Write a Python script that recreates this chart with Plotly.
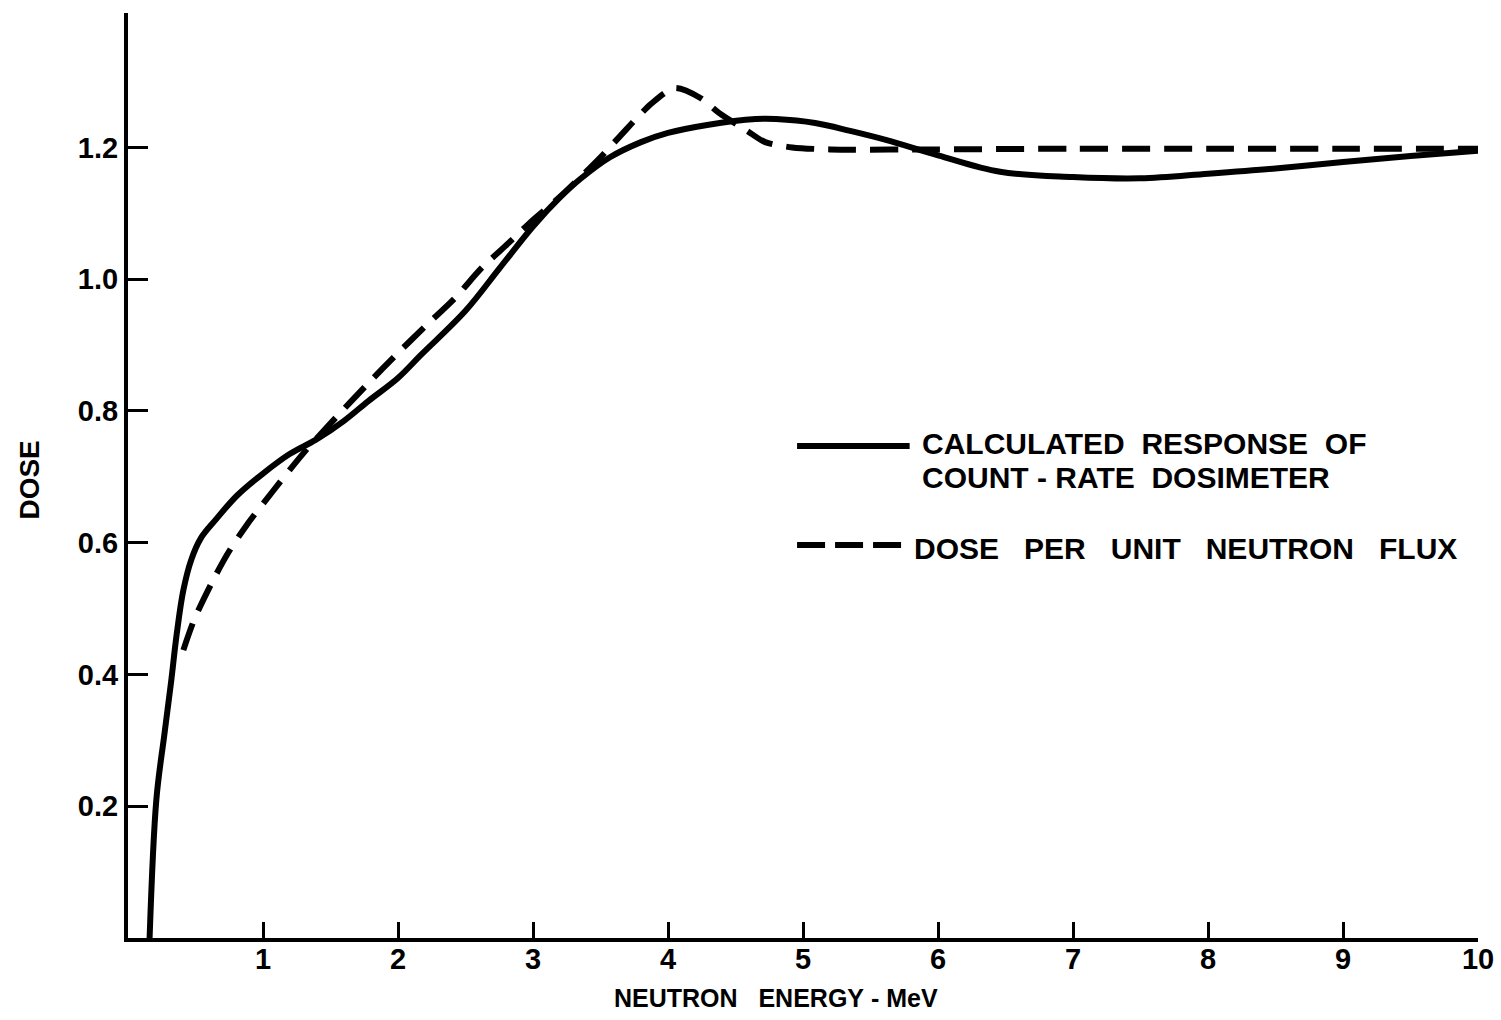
import plotly.graph_objects as go

# Calculated response of the count-rate dosimeter
calc_energy = [0.16, 0.21, 0.27, 0.32, 0.36, 0.41, 0.47, 0.54, 0.65, 0.81, 1.0,
               1.2, 1.39, 1.6, 1.78, 2.0, 2.17, 2.5, 2.75, 3.0, 3.2, 3.35, 3.57,
               3.8, 4.0, 4.29, 4.65, 4.8, 5.09, 5.35, 5.62, 6.0, 6.46, 7.0, 7.5,
               8.0, 8.5, 9.0, 9.5, 10.0]
calc_dose = [0.0, 0.21, 0.31, 0.39, 0.46, 0.528, 0.575, 0.607, 0.635, 0.672, 0.705,
             0.735, 0.756, 0.785, 0.815, 0.85, 0.885, 0.952, 1.016, 1.08, 1.124, 1.152, 1.185,
             1.208, 1.222, 1.234, 1.243, 1.243, 1.237, 1.225, 1.211, 1.188, 1.163, 1.155, 1.153,
             1.16, 1.168, 1.178, 1.187, 1.195]

# Dose per unit neutron flux
flux_energy = [0.41, 0.49, 0.62, 0.74, 0.88, 1.08, 1.3, 1.54, 1.78, 2.0, 2.21,
               2.42, 2.62, 2.82, 3.0, 3.2, 3.5, 3.64, 3.88, 4.05, 4.24, 4.38,
               4.58, 4.72, 4.92, 5.2, 6.0, 7.0, 8.0, 9.0, 10.0]
flux_dose = [0.437, 0.483, 0.539, 0.584, 0.627, 0.68, 0.736, 0.79, 0.842, 0.888, 0.93,
             0.971, 1.017, 1.055, 1.09, 1.125, 1.185, 1.216, 1.267, 1.29, 1.275, 1.252,
             1.226, 1.208, 1.2, 1.197, 1.197, 1.198, 1.198, 1.198, 1.198]

x_ticks = [1, 2, 3, 4, 5, 6, 7, 8, 9, 10]
y_ticks = [0.2, 0.4, 0.6, 0.8, 1.0, 1.2]
y_tick_labels = ["0.2", "0.4", "0.6", "0.8", "1.0", "1.2"]

FONT = "Liberation Sans"
INK = "black"
SP = "\u00a0"

fig = go.Figure()
fig.add_trace(go.Scatter(
    x=calc_energy, y=calc_dose, mode="lines",
    line=dict(color=INK, width=6, shape="spline", smoothing=1.0),
    showlegend=False, hoverinfo="skip"))
fig.add_trace(go.Scatter(
    x=flux_energy, y=flux_dose, mode="lines",
    line=dict(color=INK, width=6, dash="28px,14px", shape="spline", smoothing=0.8),
    showlegend=False, hoverinfo="skip"))

# Key drawn inside the plot area
fig.add_shape(type="line", xref="paper", yref="paper",
              x0=0.4956, x1=0.579, y0=0.532, y1=0.532,
              line=dict(color=INK, width=6))
fig.add_shape(type="line", xref="paper", yref="paper",
              x0=0.4956, x1=0.5756, y0=0.425, y1=0.425,
              line=dict(color=INK, width=6, dash="28px,10px"))
key_font = dict(family=FONT, size=30, color=INK, weight="bold")
fig.add_annotation(xref="paper", yref="paper", x=0.587, y=0.535,
                   xanchor="left", yanchor="middle", showarrow=False,
                   text="CALCULATED  RESPONSE  OF", font=key_font)
fig.add_annotation(xref="paper", yref="paper", x=0.587, y=0.498,
                   xanchor="left", yanchor="middle", showarrow=False,
                   text=f"COUNT{SP}-{SP}RATE  DOSIMETER", font=key_font)
fig.add_annotation(xref="paper", yref="paper", x=0.581, y=0.4216,
                   xanchor="left", yanchor="middle", showarrow=False,
                   text=f"DOSE{SP}{SP}{SP}PER{SP}{SP}{SP}UNIT{SP}{SP}{SP}NEUTRON{SP}{SP}{SP}FLUX",
                   font=key_font)

# Axis titles
fig.add_annotation(xref="paper", yref="paper", x=0.48, y=-0.065,
                   xanchor="center", yanchor="middle", showarrow=False,
                   text=f"NEUTRON{SP}{SP}{SP}ENERGY{SP}-{SP}MeV",
                   font=dict(family=FONT, size=25, color=INK, weight="bold"))
fig.add_annotation(xref="paper", yref="paper", x=-0.073, y=0.495,
                   xanchor="center", yanchor="middle", showarrow=False, textangle=-90,
                   text="DOSE",
                   font=dict(family=FONT, size=28, color=INK, weight="bold"))

fig.update_xaxes(
    range=[0, 10], tickvals=x_ticks, ticktext=[str(v) for v in x_ticks],
    ticks="inside", ticklen=16, tickwidth=3, tickcolor=INK,
    showline=True, linewidth=4, linecolor=INK, automargin=False,
    showgrid=False, zeroline=False, ticklabelstandoff=-8,
    tickfont=dict(family=FONT, size=29, color=INK, weight="bold"))
fig.update_yaxes(
    range=[0, 1.404], tickvals=y_ticks, ticktext=y_tick_labels,
    ticks="inside", ticklen=20, tickwidth=3, tickcolor=INK,
    showline=True, linewidth=4, linecolor=INK, automargin=False,
    showgrid=False, zeroline=False,
    tickfont=dict(family=FONT, size=29, color=INK, weight="bold"))

fig.update_layout(
    width=1501, height=1020,
    margin=dict(l=128, r=23, t=13, b=82),
    plot_bgcolor="white", paper_bgcolor="white",
    showlegend=False)

fig.write_html("out.html")
